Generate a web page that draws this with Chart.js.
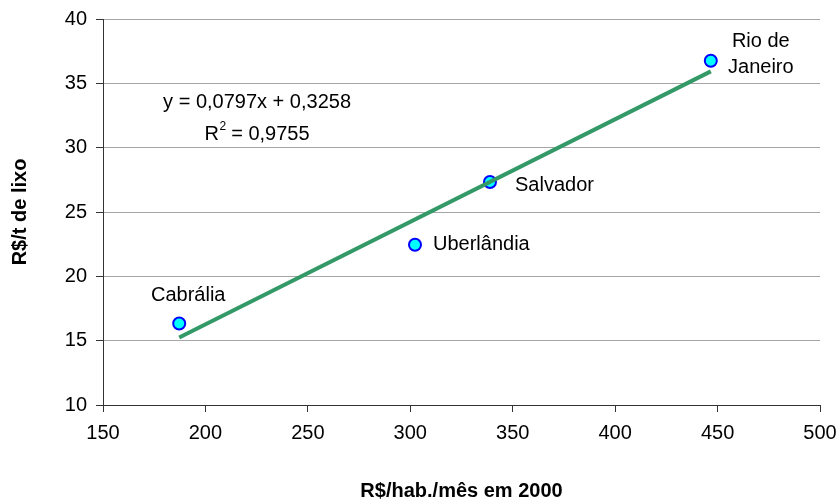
<!DOCTYPE html>
<html>
<head>
<meta charset="utf-8">
<script src="https://cdn.jsdelivr.net/npm/chart.js@4/dist/chart.umd.min.js"></script>
<style>
  html, body { margin: 0; padding: 0; background: #fff; }
  #wrap { width: 840px; height: 503px; }
</style>
</head>
<body>
<div id="wrap"><canvas id="c" width="840" height="503"></canvas></div>
<script>
// ---- data ----
const cities = ["Cabrália", "Uberlândia", "Salvador", "Rio de Janeiro"];
const costPerInhabitant = [187.2, 302.3, 338.9, 446.7];   // R$/hab./mês em 2000
const costPerTon = [16.33, 22.46, 27.33, 36.76];            // R$/t de lixo
const trendX = [187.2, 446.7];
const trendY = [15.25, 35.93];
const equationLines = ["y = 0,0797x + 0,3258", "R² = 0,9755"];
const xTicks = [150, 200, 250, 300, 350, 400, 450, 500];
const yTicks = [10, 15, 20, 25, 30, 35, 40];
const xTitle = "R$/hab./mês em 2000";
const yTitle = "R$/t de lixo";

const FONT = "'Liberation Sans', Arial, sans-serif";
const FS = 20;

// label placement (style, not data)
const labelPlacement = [
  { dx: 9, dy: -28, align: "center", lines: ["Cabrália"] },
  { dx: 18, dy: 0, align: "left", lines: ["Uberlândia"] },
  { dx: 25, dy: 3, align: "left", lines: ["Salvador"] },
  { dx: 50, dy: -19, align: "center", lines: ["Rio de", "Janeiro"], gap: 25.5 }
];
const equationAnchor = { x: 225.2, y1: 33.08, y2: 30.57 };

const points = costPerInhabitant.map((v, i) => ({ x: v, y: costPerTon[i] }));
const trend = trendX.map((v, i) => ({ x: v, y: trendY[i] }));

const annotPlugin = {
  id: "annot",
  afterDatasetsDraw(chart) {
    const ctx = chart.ctx;
    const xs = chart.scales.x, ys = chart.scales.y;
    ctx.save();
    ctx.fillStyle = "#000";
    ctx.font = FS + "px " + FONT;
    ctx.textBaseline = "middle";
    const meta = chart.getDatasetMeta(0);
    meta.data.forEach((el, i) => {
      const p = labelPlacement[i];
      ctx.textAlign = p.align;
      p.lines.forEach((ln, k) => {
        ctx.fillText(ln, el.x + p.dx, el.y + p.dy + k * (p.gap || 0));
      });
    });
    // equation
    const cx = xs.getPixelForValue(equationAnchor.x);
    ctx.textBaseline = "alphabetic";
    ctx.textAlign = "center";
    ctx.fillText(equationLines[0], cx, ys.getPixelForValue(equationAnchor.y1));
    // R² with superscript
    const by = ys.getPixelForValue(equationAnchor.y2);
    const rest = equationLines[1].replace("R² ", " ");
    ctx.font = FS + "px " + FONT;
    const wR = ctx.measureText("R").width;
    const wRest = ctx.measureText(rest).width;
    ctx.font = "12px " + FONT;
    const w2 = ctx.measureText("2").width;
    const total = wR + w2 + wRest;
    let x0 = cx - total / 2;
    ctx.textAlign = "left";
    ctx.font = FS + "px " + FONT;
    ctx.fillText("R", x0, by);
    ctx.font = "12px " + FONT;
    ctx.fillText("2", x0 + wR + 0.5, by - 10);
    ctx.font = FS + "px " + FONT;
    ctx.fillText(rest, x0 + wR + w2, by);
    ctx.restore();
  }
};

new Chart(document.getElementById("c"), {
  type: "scatter",
  data: {
    datasets: [
      {
        label: "Cidades",
        data: points,
        order: 1,
        pointRadius: 6,
        pointHoverRadius: 6,
        pointBackgroundColor: "#00FFFF",
        pointBorderColor: "#0000FF",
        pointBorderWidth: 2,
        showLine: false
      },
      {
        label: "Tendência",
        data: trend,
        order: 0,
        showLine: true,
        borderColor: "#339966",
        borderWidth: 4,
        pointRadius: 0,
        borderCapStyle: "butt",
        fill: false
      }
    ]
  },
  options: {
    responsive: false,
    animation: false,
    events: [],
    layout: { padding: { top: 19, right: 20, left: 0, bottom: 0 } },
    plugins: { legend: { display: false }, tooltip: { enabled: false } },
    scales: {
      x: {
        type: "linear",
        min: 150, max: 500,
        afterBuildTicks: s => { s.ticks = xTicks.map(v => ({ value: v })); },
        afterFit: s => { s.height = 98; s.paddingLeft = 0; s.paddingRight = 0; },
        ticks: { color: "#000", font: { family: FONT, size: FS }, padding: 9, maxRotation: 0 },
        grid: { drawOnChartArea: false, drawTicks: true, tickLength: 7, tickColor: "#333", color: "#333", lineWidth: 1 },
        border: { color: "#333", width: 1 },
        title: { display: true, text: xTitle, color: "#000", font: { family: FONT, size: FS, weight: "bold" }, padding: { top: 0, bottom: 0 } }
      },
      y: {
        type: "linear",
        min: 10, max: 40,
        afterBuildTicks: s => { s.ticks = yTicks.map(v => ({ value: v })); },
        afterFit: s => { s.width = 103; s.paddingTop = 0; s.paddingBottom = 0; },
        ticks: { color: "#000", font: { family: FONT, size: FS }, padding: 9 },
        grid: { drawOnChartArea: true, color: "#a6a6a6", lineWidth: 1, drawTicks: true, tickLength: 7, tickColor: "#333" },
        border: { color: "#333", width: 1 },
        title: { display: true, text: yTitle, color: "#000", font: { family: FONT, size: FS, weight: "bold" }, padding: { top: 8, bottom: 0 } }
      }
    }
  },
  plugins: [annotPlugin]
});
</script>
</body>
</html>
